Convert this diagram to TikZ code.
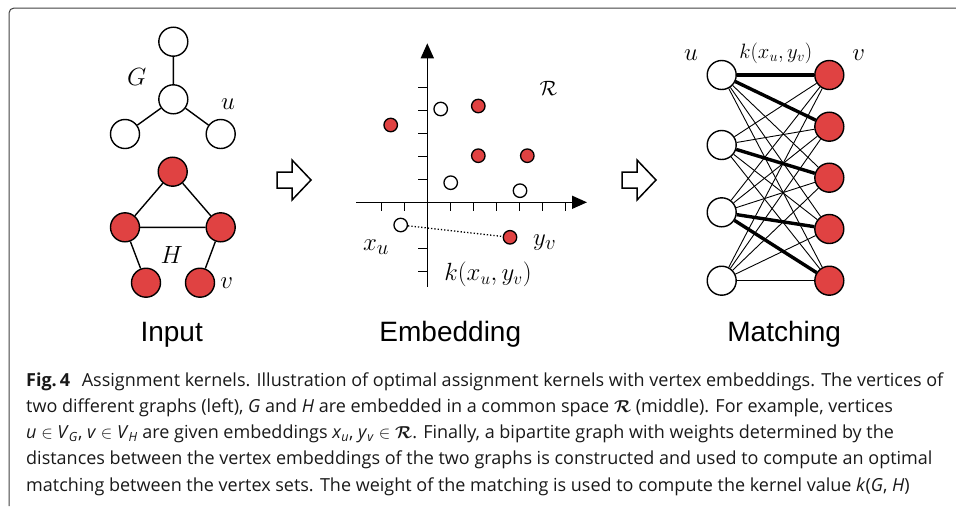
\documentclass[tikz,border=0pt]{standalone}
\usepackage{amsmath,amssymb}
\usepackage{fontspec}
\newfontfamily\headfont{Liberation Sans}
\newfontfamily\capfont{Open Sans}
\usetikzlibrary{arrows.meta,calc}
\definecolor{nodered}{RGB}{224,66,66}
\tikzset{
	vert/.style={draw,circle,line width=1.4pt,minimum size=29pt,inner sep=0pt,fill=white},
	rvert/.style={vert,fill=nodered},
	emb/.style={draw,circle,line width=1.3pt,minimum size=13.5pt,inner sep=0pt,fill=white},
	remb/.style={emb,fill=nodered},
	lab/.style={inner sep=0pt,font=\fontsize{28}{28}\selectfont},
	title/.style={anchor=base,inner sep=0pt,font=\headfont\fontsize{28}{28}\selectfont},
	capline/.style={anchor=base west,inner sep=0pt,text=black!90,font=\capfont\fontsize{18}{20}\selectfont}
}

\begin{document}
\begin{tikzpicture}
\pgfmathsetmacro{\ul}{0.0351459804};
\useasboundingbox (0,0) rectangle (956*\ul,-506*\ul);
% frame
\draw[line width=1pt,black!75,rounded corners=5pt] (9*\ul,-506*\ul)--(9*\ul,-8*\ul)--(956*\ul,-8*\ul);
% input graphs
\begin{scope}
	\node[vert] (g1) at (173.3*\ul,-41.7*\ul) {};
	\node[vert] (g2) at (173.3*\ul,-99.3*\ul) {};
	\node[vert] (g3) at (125*\ul,-134*\ul) {};
	\node[vert] (g4) at (220.7*\ul,-134*\ul) {};
	\draw[line width=1.4pt] (g1)--(g2) (g2)--(g3) (g2)--(g4);
	\node[lab] (glab) at (136.7*\ul,-76.7*\ul) {$G$};
	\node[lab] (ulab) at (228*\ul,-104*\ul) {$u$};
	\node[rvert] (h1) at (172.7*\ul,-171.7*\ul) {};
	\node[rvert] (h2) at (125*\ul,-227.3*\ul) {};
	\node[rvert] (h3) at (220.7*\ul,-227.3*\ul) {};
	\node[rvert] (h4) at (146*\ul,-282.7*\ul) {};
	\node[rvert] (h5) at (200*\ul,-282.7*\ul) {};
	\draw[line width=1.4pt] (h1)--(h2) (h1)--(h3) (h2)--(h3) (h2)--(h4) (h3)--(h5);
	\node[lab] (hlab) at (171.7*\ul,-255*\ul) {$H$};
	\node[lab] (vlab) at (226.7*\ul,-283*\ul) {$v$};
\end{scope}
% block arrows
\foreach \ax in {277,622}{
\begin{scope}[shift={(\ax*\ul,-180*\ul)}]
	\draw[line width=1.5pt,fill=white] (0,8*\ul)--(15*\ul,8*\ul)--(15*\ul,20*\ul)--(34*\ul,0)--(15*\ul,-20*\ul)--(15*\ul,-8*\ul)--(0,-8*\ul)--cycle;
\end{scope}
}
% embedding
\begin{scope}
	\coordinate (O) at (427.3*\ul,-202.3*\ul);
	\draw[line width=1.5pt,-{Triangle[length=15pt,width=13pt]}] (356*\ul,-202.3*\ul)--(587*\ul,-202.3*\ul);
	\draw[line width=1.5pt,-{Triangle[length=15pt,width=13pt]}] (427.3*\ul,-286.7*\ul)--(427.3*\ul,-43.3*\ul);
	\foreach \k in {-2,-1,1,2,3,4,5,6}
		\draw[line width=1.2pt] ($(O)+(23*\k*\ul,0)$)--++(0,-9*\ul);
	\foreach \k in {-3,-2,1,2,3,4,5}
		\draw[line width=1.2pt] ($(O)+(0,23*\k*\ul)$)--++(-9*\ul,0);
	\node[remb] (e1) at (390.7*\ul,-125*\ul) {};
	\node[emb] (e2) at (440.7*\ul,-109*\ul) {};
	\node[remb] (e3) at (478.3*\ul,-106*\ul) {};
	\node[remb] (e4) at (478.3*\ul,-155.7*\ul) {};
	\node[remb] (e5) at (527.3*\ul,-155.7*\ul) {};
	\node[emb] (e6) at (450.7*\ul,-182.7*\ul) {};
	\node[emb] (e7) at (520*\ul,-190.7*\ul) {};
	\node[emb] (xu) at (400.7*\ul,-225*\ul) {};
	\node[remb] (yv) at (510*\ul,-237.3*\ul) {};
	\draw[line width=1.3pt,dotted] (xu)--(yv);
	\node[lab,font=\fontsize{22}{22}\selectfont] (rlab) at (548.3*\ul,-88.3*\ul) {$\mathcal{R}$};
	\node[lab] (xlab) at (376*\ul,-247*\ul) {$x_u$};
	\node[lab] (ylab) at (544.7*\ul,-243*\ul) {$y_v$};
	\node[lab,font=\fontsize{24}{24}\selectfont] (klab) at (488*\ul,-274.5*\ul) {$k(x_u,y_v)$};
\end{scope}
% matching
\begin{scope}
	\foreach \i/\y in {1/75,2/145,3/212.3,4/280.7}
		\node[vert] (l\i) at (721.7*\ul,-\y*\ul) {};
	\foreach \j/\y in {1/75,2/126.7,3/177.7,4/229,5/280.7}
		\node[rvert] (r\j) at (829.3*\ul,-\y*\ul) {};
	\foreach \i in {1,...,4}
		\foreach \j in {1,...,5}
			\draw[line width=0.9pt] (l\i)--(r\j);
	\foreach \i/\j in {1/1,1/2,2/3,3/4,3/5}
		\draw[line width=3.4pt] (l\i)--(r\j);
	\node[lab] (mulab) at (691*\ul,-55*\ul) {$u$};
	\node[lab] (mvlab) at (858.7*\ul,-55*\ul) {$v$};
	\node[lab,font=\fontsize{19.5}{19.5}\selectfont] (mklab) at (775.8*\ul,-53.3*\ul) {$k(x_u,y_v)$};
\end{scope}
% titles
\node[title] (t1) at (171.7*\ul,-341*\ul) {Input};
\node[title] (t2) at (450.3*\ul,-341*\ul) {Embedding};
\node[title] (t3) at (784.2*\ul,-341*\ul) {Matching};
% caption
\node[capline] (c1) at (26*\ul,-386*\ul) {\textbf{Fig.\,4}\hspace{7pt} Assignment kernels. Illustration of optimal assignment kernels with vertex embeddings. The vertices of};
\node[capline] (c2) at (26*\ul,-412.3*\ul) {two different graphs (left), \textit{G} and \textit{H} are embedded in a common space $\boldsymbol{\mathcal{R}}$ (middle). For example, vertices};
\node[capline] (c3) at (26*\ul,-438.5*\ul) {\textit{u} $\in$ \textit{V}\textsubscript{\textit{G}}, \textit{v} $\in$ \textit{V}\textsubscript{\textit{H}} are given embeddings \textit{x}\textsubscript{\textit{u}}, \textit{y}\textsubscript{\textit{v}} $\in$ $\boldsymbol{\mathcal{R}}$. Finally, a bipartite graph with weights determined by the};
\node[capline] (c4) at (26*\ul,-464.8*\ul) {distances between the vertex embeddings of the two graphs is constructed and used to compute an optimal};
\node[capline] (c5) at (26*\ul,-491*\ul) {matching between the vertex sets. The weight of the matching is used to compute the kernel value \textit{k}(\textit{G}, \textit{H})};
\end{tikzpicture}
\end{document}
